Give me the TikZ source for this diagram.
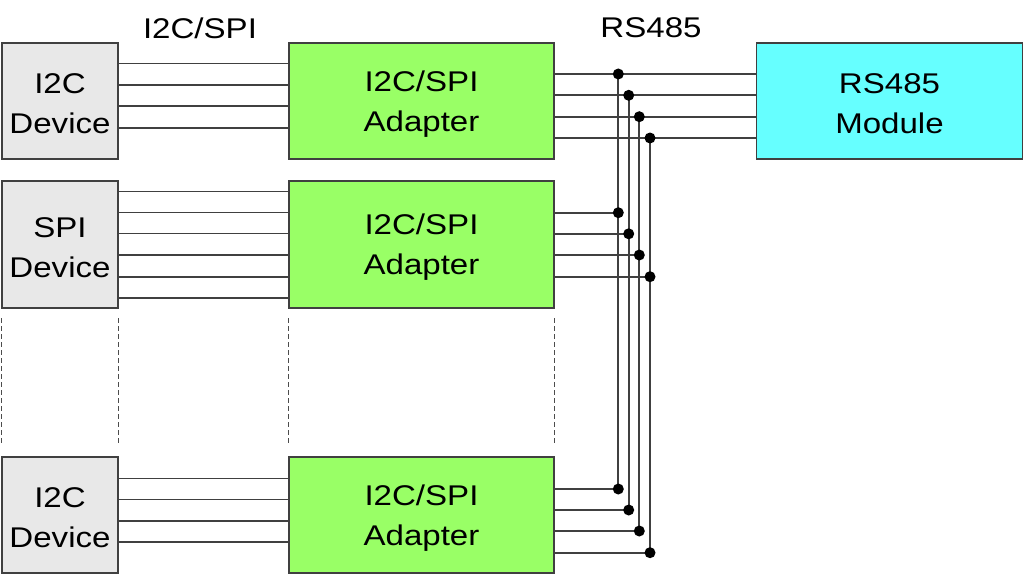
\documentclass[tikz,border=0pt]{standalone}
\usepackage{fontspec}
\setmainfont[FakeStretch=1.16]{Liberation Sans}
\begin{document}
\begin{tikzpicture}[x=1pt,y=-1pt,
  box/.style={draw=black!75,line width=1.6pt,inner sep=0pt},
  txt/.style={align=center,inner sep=0pt,yshift=-3pt,font=\fontsize{28.5}{40}\selectfont},
  devbox/.style={box,fill=black!9,minimum width=116pt},
  adbox/.style={box,fill=adgreen,minimum width=265pt},
  modbox/.style={box,fill=modcyan,minimum width=266pt},
  wire/.style={draw=black!75,line width=1.8pt},
  sep/.style={draw=black!70,line width=1.2pt,dash pattern=on 4.5pt off 3.5pt},
  jdot/.style={circle,fill=black,inner sep=0pt,minimum size=11pt},
  lbl/.style={font=\fontsize{28.5}{34}\selectfont}]
\definecolor{adgreen}{RGB}{153,255,102}
\definecolor{modcyan}{RGB}{102,255,255}
\useasboundingbox (0,0) rectangle (1024,575);
\fill[white] (0,0) rectangle (1024,575);

% boxes
\node[devbox,minimum height=116pt,label={[txt]center:I2C\\Device}] (dev1) at (60,101) {};
\node[devbox,minimum height=127pt,label={[txt]center:SPI\\Device}] (dev2) at (60,244.5) {};
\node[devbox,minimum height=116pt,label={[txt]center:I2C\\Device}] (dev3) at (60,515) {};
\node[adbox,minimum height=116pt,label={[txt]center:I2C/SPI\\Adapter}] (ad1) at (421.5,101) {};
\node[adbox,minimum height=127pt,label={[txt]center:I2C/SPI\\Adapter}] (ad2) at (421.5,244.5) {};
\node[adbox,minimum height=116pt,label={[txt]center:I2C/SPI\\Adapter}] (ad3) at (421.5,515) {};
\node[modbox,minimum height=116pt,label={[txt]center:RS485\\Module}] (mod) at (889.5,101) {};

% labels
\node[lbl] (l1) at (200,28) {I2C/SPI};
\node[lbl] (l2) at (651,28) {RS485};

% device to adapter wires
\foreach \y in {63.5,85,106.3,127.6}
  \draw[wire] (dev1.east |- 0,\y) -- (ad1.west |- 0,\y);
\foreach \y in {191.5,212.5,233.5,255.2,276.6,297.8}
  \draw[wire] (dev2.east |- 0,\y) -- (ad2.west |- 0,\y);
\foreach \y in {478.5,499.5,520.7,541.8}
  \draw[wire] (dev3.east |- 0,\y) -- (ad3.west |- 0,\y);

% bus coordinates
\foreach \i/\x/\ya/\yb/\yc in {1/618.3/74/212.7/489,2/628.7/95.3/233.8/510,3/639.3/116.7/255/531,4/650/138/276.7/552.7}{
  \coordinate (t\i) at (\x,\ya);
  \coordinate (m\i) at (\x,\yb);
  \coordinate (b\i) at (\x,\yc);
  \draw[wire] (ad1.east |- t\i) -- (mod.west |- t\i);
  \draw[wire] (ad2.east |- m\i) -- (m\i);
  \draw[wire] (ad3.east |- b\i) -- (b\i);
  \draw[wire] (t\i) -- (b\i);
  \node[jdot] at (t\i) {};
  \node[jdot] at (m\i) {};
  \node[jdot] at (b\i) {};
}

% dashed continuation lines
\foreach \n/\a in {dev2/south west,dev2/south east,ad2/south west,ad2/south east}{
  \coordinate (s) at (\n.\a);
  \draw[sep] (s |- 0,318) -- (s |- 0,443);
}
\end{tikzpicture}
\end{document}
